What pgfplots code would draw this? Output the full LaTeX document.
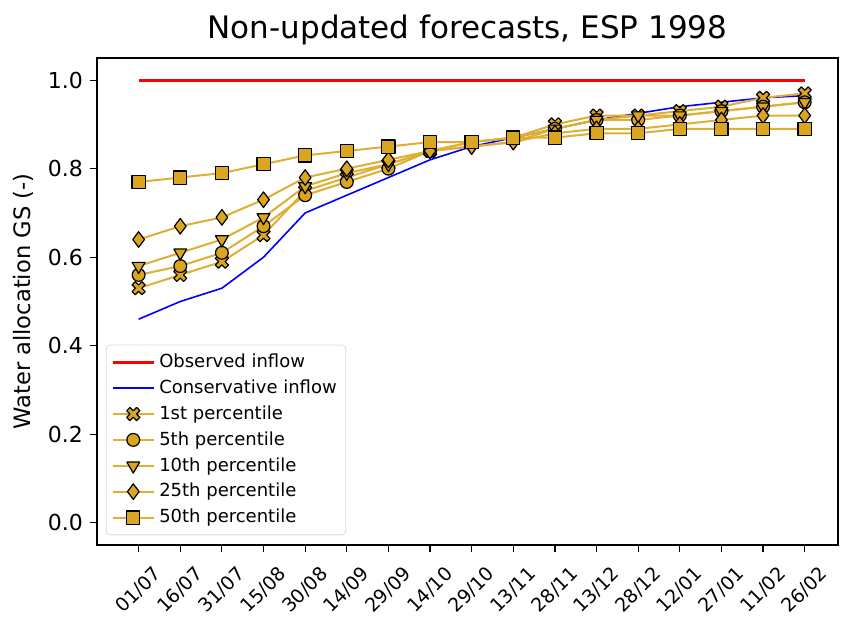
\documentclass[border=0pt]{standalone}
\usepackage{fontspec}
\setmainfont{DejaVu Sans}
\usepackage{pgfplots}
\usepackage{pgfplotstable}
\pgfplotsset{compat=1.18}
\definecolor{gold}{RGB}{218,165,32}
\definecolor{lgold}{RGB}{222,175,50}

% filled X marker like matplotlib's 'X'
\pgfdeclareplotmark{Xf}{%
  \pgftransformrotate{45}%
  \pgfpathmoveto{\pgfqpoint{0.42\pgfplotmarksize}{1.3\pgfplotmarksize}}%
  \pgfpathlineto{\pgfqpoint{-0.42\pgfplotmarksize}{1.3\pgfplotmarksize}}%
  \pgfpathlineto{\pgfqpoint{-0.42\pgfplotmarksize}{0.42\pgfplotmarksize}}%
  \pgfpathlineto{\pgfqpoint{-1.3\pgfplotmarksize}{0.42\pgfplotmarksize}}%
  \pgfpathlineto{\pgfqpoint{-1.3\pgfplotmarksize}{-0.42\pgfplotmarksize}}%
  \pgfpathlineto{\pgfqpoint{-0.42\pgfplotmarksize}{-0.42\pgfplotmarksize}}%
  \pgfpathlineto{\pgfqpoint{-0.42\pgfplotmarksize}{-1.3\pgfplotmarksize}}%
  \pgfpathlineto{\pgfqpoint{0.42\pgfplotmarksize}{-1.3\pgfplotmarksize}}%
  \pgfpathlineto{\pgfqpoint{0.42\pgfplotmarksize}{-0.42\pgfplotmarksize}}%
  \pgfpathlineto{\pgfqpoint{1.3\pgfplotmarksize}{-0.42\pgfplotmarksize}}%
  \pgfpathlineto{\pgfqpoint{1.3\pgfplotmarksize}{0.42\pgfplotmarksize}}%
  \pgfpathlineto{\pgfqpoint{0.42\pgfplotmarksize}{0.42\pgfplotmarksize}}%
  \pgfpathclose
  \pgfusepathqfillstroke
}

% x: 0 = 01/07 ... 16 = 26/02
\pgfplotstableread{
x obs  cons  p1   p5   p10  p25  p50
0  1.0  0.46  0.53 0.56 0.58 0.64 0.77
1  1.0  0.50  0.56 0.58 0.61 0.67 0.78
2  1.0  0.53  0.59 0.61 0.64 0.69 0.79
3  1.0  0.60  0.65 0.67 0.69 0.73 0.81
4  1.0  0.70  0.75 0.74 0.76 0.78 0.83
5  1.0  0.74  0.78 0.77 0.79 0.80 0.84
6  1.0  0.78  0.81 0.80 0.81 0.82 0.85
7  1.0  0.82  0.84 0.84 0.84 0.84 0.86
8  1.0  0.85  0.86 0.86 0.85 0.85 0.86
9  1.0  0.87  0.87 0.87 0.86 0.86 0.87
10 1.0  0.89  0.90 0.89 0.89 0.88 0.87
11 1.0  0.91  0.92 0.91 0.91 0.89 0.88
12 1.0  0.925 0.92 0.91 0.92 0.89 0.88
13 1.0  0.94  0.93 0.92 0.92 0.90 0.89
14 1.0  0.95  0.94 0.93 0.93 0.91 0.89
15 1.0  0.96  0.96 0.94 0.94 0.92 0.89
16 1.0  0.965 0.97 0.95 0.95 0.92 0.89
}\data

\begin{document}
\begin{tikzpicture}
% page = reference frame (axis box at origin)
\useasboundingbox (-48.5pt,-38pt) rectangle (373pt,272.5pt);
\begin{axis}[
  at={(0,0)}, anchor=south west,
  width=370.5pt, height=243.5pt, scale only axis,
  xmin=-1, xmax=16.8,
  ymin=-0.05, ymax=1.05,
  xtick={0,...,16},
  xticklabels={01/07,16/07,31/07,15/08,30/08,14/09,29/09,14/10,29/10,13/11,28/11,13/12,28/12,12/01,27/01,11/02,26/02},
  ytick={0,0.2,0.4,0.6,0.8,1.0},
  yticklabel style={font=\fontsize{11}{13}\selectfont,
    /pgf/number format/.cd,fixed,fixed zerofill,precision=1},
  /pgf/number format/assume math mode=true,
  tick pos=left, tick align=outside,
  major tick length=3.5pt,
  tick style={black, line width=0.6pt},
  axis line style={line width=0.6pt},
  xticklabel style={font=\fontsize{9.5}{11}\selectfont, anchor=center, yshift=-19pt, rotate=45},
  title={Non-updated forecasts, ESP 1998},
  title style={font=\fontsize{15.5}{18}\selectfont, at={(axis description cs:0.5,1)}, anchor=center, yshift=8pt},
  ylabel={Water allocation GS (-)},
  every axis y label/.style={at={(axis description cs:-0.0999,0.5)}, rotate=90, anchor=center,
    font=\fontsize{11.3}{13}\selectfont},
  legend style={at={(0.012,0.02)}, anchor=south west, draw=black!15,
    rounded corners=2pt, font=\fontsize{9}{10.5}\selectfont,
    row sep=0.6pt, inner sep=2.5pt},
  legend cell align=left,
  legend image code/.code={\draw[mark repeat=2,mark phase=2]
    plot coordinates {(0cm,0cm) (0.36cm,0cm) (0.72cm,0cm)};},
  every axis plot/.append style={line join=round},
]
\addplot[red, line width=1.5pt, no markers] table[x=x,y=obs] {\data};
\addlegendentry{Observed inflow}
\addplot[blue, line width=0.8pt, no markers] table[x=x,y=cons] {\data};
\addlegendentry{Conservative inflow}
\addplot[lgold, line width=1pt, mark=Xf, mark size=2.7pt,
  mark options={fill=gold, draw=black, line width=0.6pt}] table[x=x,y=p1] {\data};
\addlegendentry{1st percentile}
\addplot[lgold, line width=1pt, mark=*, mark size=3.2pt,
  mark options={fill=gold, draw=black, line width=0.6pt}] table[x=x,y=p5] {\data};
\addlegendentry{5th percentile}
\addplot[lgold, line width=1pt, mark=triangle*, mark size=3.7pt,
  mark options={fill=gold, draw=black, line width=0.6pt, rotate=180}] table[x=x,y=p10] {\data};
\addlegendentry{10th percentile}
\addplot[lgold, line width=1pt, mark=diamond*, mark size=3.9pt,
  mark options={fill=gold, draw=black, line width=0.6pt}] table[x=x,y=p25] {\data};
\addlegendentry{25th percentile}
\addplot[lgold, line width=1pt, mark=square*, mark size=3.3pt,
  mark options={fill=gold, draw=black, line width=0.6pt}] table[x=x,y=p50] {\data};
\addlegendentry{50th percentile}
\end{axis}
\end{tikzpicture}
\end{document}
